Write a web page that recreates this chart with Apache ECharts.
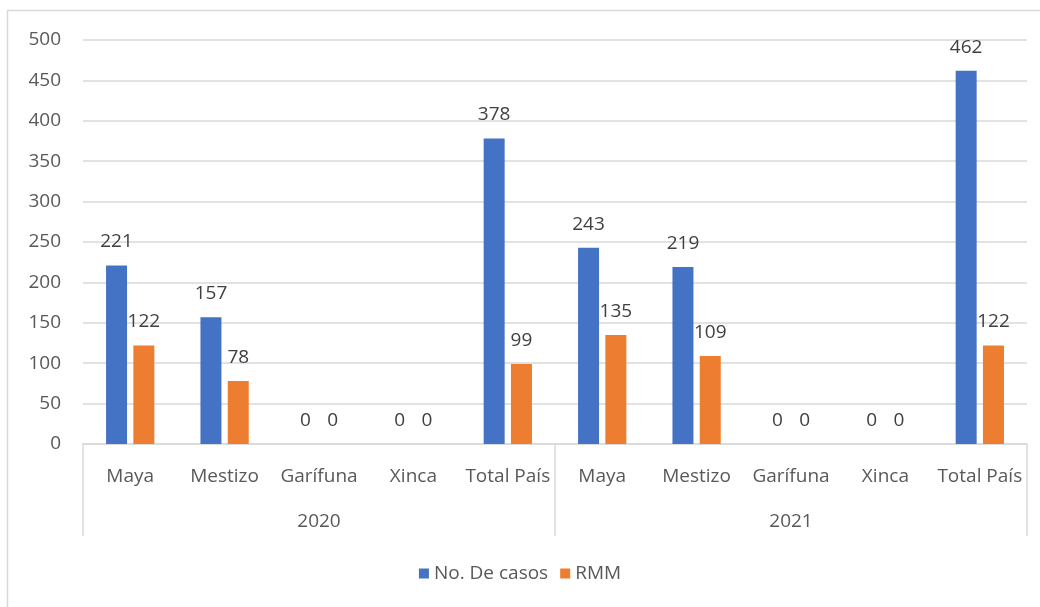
<!DOCTYPE html>
<html>
<head>
<meta charset="utf-8">
<script src="https://cdn.jsdelivr.net/npm/echarts@6/dist/echarts.min.js"></script>
<style>html,body{margin:0;padding:0;background:#fff}#c{width:1040px;height:607px}</style>
</head>
<body>
<div id="c"></div>
<script>
const categories = ['Maya','Mestizo','Garífuna','Xinca','Total País','Maya','Mestizo','Garífuna','Xinca','Total País'];
const years = ['2020','2021'];
const casos = [221,157,0,0,378,243,219,0,0,462];
const rmm = [122,78,0,0,99,135,109,0,0,122];
const seriesNames = ['No. De casos','RMM'];
const yTicks = {min:0,max:500,interval:50};

const FONT = 'Open Sans';
const FS = 19;
const chart = echarts.init(document.getElementById('c'));
const labelCfg = {show:true,position:'top',distance:14,color:'#404040',fontSize:FS,fontFamily:FONT};
chart.setOption({
  animation:false,
  graphic:[{type:'rect',shape:{x:7.5,y:10.5,width:1040,height:610},style:{fill:'none',stroke:'#d9d9d9',lineWidth:1.5},silent:true}],
  grid:{left:83,right:13,top:40,bottom:163},
  legend:{bottom:19,left:'center',itemWidth:10,itemHeight:10,icon:'rect',itemGap:12,
    textStyle:{color:'#595959',fontSize:FS,fontFamily:FONT},data:seriesNames},
  xAxis:[
    {type:'category',data:categories,position:'bottom',
     axisLine:{show:true,lineStyle:{color:'#d9d9d9',width:1.5}},axisTick:{show:false},
     axisLabel:{color:'#595959',fontSize:FS,fontFamily:FONT,margin:23,interval:0}},
    {type:'category',data:years,position:'bottom',
     axisLine:{show:false},
     axisTick:{show:true,length:92,inside:false,lineStyle:{color:'#d9d9d9',width:1.5}},
     axisLabel:{color:'#595959',fontSize:FS,fontFamily:FONT,margin:68}}
  ],
  yAxis:{type:'value',min:yTicks.min,max:yTicks.max,interval:yTicks.interval,
    axisLine:{show:false},axisTick:{show:false},
    splitLine:{lineStyle:{color:'#d9d9d9',width:1.5}},
    axisLabel:{color:'#595959',fontSize:FS,fontFamily:FONT,margin:22}},
  series:[
    {name:seriesNames[0],type:'bar',data:casos,barWidth:21,barGap:'30%',itemStyle:{color:'#4472c4'},label:labelCfg},
    {name:seriesNames[1],type:'bar',data:rmm,barWidth:21,barGap:'30%',itemStyle:{color:'#ed7d31'},label:labelCfg}
  ]
});
</script>
</body>
</html>
